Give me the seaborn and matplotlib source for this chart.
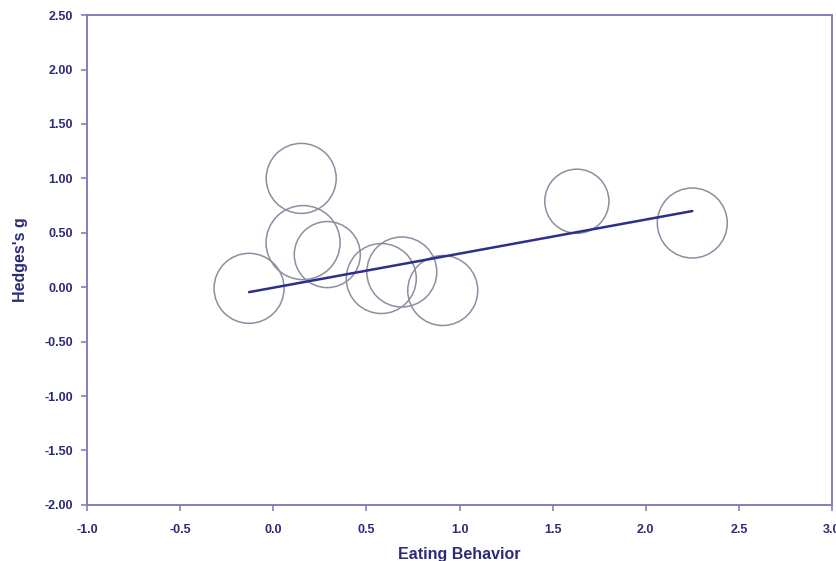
import matplotlib
matplotlib.use("Agg")
import matplotlib.pyplot as plt
import seaborn as sns
import numpy as np

sns.set_theme(style="white")
plt.rcParams['font.family'] = ['Liberation Sans', 'DejaVu Sans']

# study-level effects
eating_behavior = [-0.13, 0.15, 0.16, 0.29, 0.58, 0.69, 0.91, 1.63, 2.25]
hedges_g = [-0.01, 1.00, 0.41, 0.30, 0.08, 0.14, -0.03, 0.79, 0.59]
study_weight = [1.00, 1.00, 1.12, 0.89, 1.00, 1.00, 1.00, 0.84, 1.00]

# meta-regression line
reg_x = [-0.13, 2.25]
reg_y = [-0.045, 0.70]

x_ticks = [-1.0, -0.5, 0.0, 0.5, 1.0, 1.5, 2.0, 2.5, 3.0]
y_ticks = [-2.0, -1.5, -1.0, -0.5, 0.0, 0.5, 1.0, 1.5, 2.0, 2.5]

AXIS_COL = '#8080b8'
TEXT_COL = '#2b2b7a'
CIRCLE_COL = '#8e8ea2'
LINE_COL = '#2e2e8c'

fig = plt.figure(figsize=(8.37, 5.61), dpi=100)
ax = fig.add_axes([0.104, 0.100, 0.890, 0.873])

base_area = 2540
sns.scatterplot(x=eating_behavior, y=hedges_g, size=study_weight,
                sizes=(0, 1.12 * base_area), size_norm=(0, 1.12),
                color=CIRCLE_COL, facecolor='none', edgecolor=CIRCLE_COL,
                linewidth=1.1, legend=False, ax=ax, zorder=2)
sns.lineplot(x=reg_x, y=reg_y, color=LINE_COL, linewidth=1.8, ax=ax, zorder=3)

ax.set_xlim(-1.0, 3.0)
ax.set_ylim(-2.0, 2.5)
ax.set_xticks(x_ticks)
ax.set_yticks(y_ticks)
ax.set_xticklabels([f"{t:.1f}" for t in x_ticks])
ax.set_yticklabels([f"{t:.2f}" for t in y_ticks])

for side in ['left', 'bottom', 'top', 'right']:
    ax.spines[side].set_color(AXIS_COL)
    ax.spines[side].set_linewidth(1.4)

ax.tick_params(axis='both', direction='out', length=4, width=1.2,
               color=AXIS_COL, labelcolor=TEXT_COL, labelsize=9)
ax.tick_params(axis='x', pad=10)
ax.tick_params(axis='y', pad=6)
ax.tick_params(top=False, right=False, bottom=True, left=True)
for lab in ax.get_xticklabels() + ax.get_yticklabels():
    lab.set_fontweight('bold')

ax.set_xlabel("Eating Behavior", fontsize=11.5, fontweight='bold', color=TEXT_COL, labelpad=8)
ax.set_ylabel("Hedges's g", fontsize=11.5, fontweight='bold', color=TEXT_COL, labelpad=12)

fig.savefig("out.png", dpi=100)
